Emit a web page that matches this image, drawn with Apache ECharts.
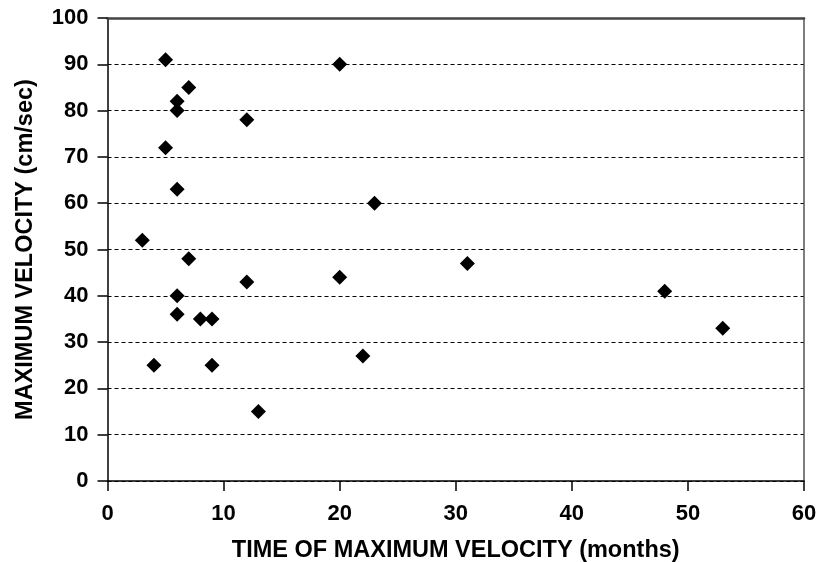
<!DOCTYPE html>
<html>
<head>
<meta charset="utf-8">
<script src="https://cdn.jsdelivr.net/npm/echarts@6/dist/echarts.min.js"></script>
<style>
  html, body { margin: 0; padding: 0; background: #fff; }
  #chart { width: 821px; height: 562px; }
</style>
</head>
<body>
<div id="chart"></div>
<script>
// Time at which peak velocity was reached (months) and the peak velocity (cm/sec)
const timeMonths = [5, 20, 7, 6, 6, 12, 5, 6, 23, 3, 7, 12, 20, 6, 6, 8, 9, 4, 9, 13, 22, 31, 48, 53];
const velocity   = [91, 90, 85, 82, 80, 78, 72, 63, 60, 52, 48, 43, 44, 40, 36, 35, 35, 25, 25, 15, 27, 47, 41, 33];

const xTitle = 'TIME OF MAXIMUM VELOCITY (months)';
const yTitle = 'MAXIMUM VELOCITY (cm/sec)';

const points = timeMonths.map((t, i) => [t, velocity[i]]);

const font = { fontFamily: 'Liberation Sans, Arial, sans-serif', fontWeight: 'bold', color: '#000' };

const chart = echarts.init(document.getElementById('chart'), null, { renderer: 'canvas' });
chart.setOption({
  animation: false,
  backgroundColor: '#fff',
  grid: { left: 107.5, right: 17, top: 18, bottom: 81, containLabel: false, outerBoundsMode: 'none' },
  xAxis: [
    {
      type: 'value', min: 0, max: 60, interval: 10, position: 'bottom',
      name: xTitle, nameLocation: 'middle', nameGap: 58,
      nameTextStyle: Object.assign({ fontSize: 23.5 }, font),
      axisLine: { show: true, lineStyle: { color: '#000', width: 1.5 } },
      axisTick: { show: true, inside: false, length: 10, lineStyle: { color: '#000', width: 1.5 } },
      axisLabel: Object.assign({ fontSize: 22, margin: 22 }, font),
      splitLine: { show: false }
    },
    {
      type: 'value', min: 0, max: 60, position: 'top',
      axisLine: { show: true, onZero: false, lineStyle: { color: '#444', width: 2.5 } },
      axisTick: { show: false }, axisLabel: { show: false }, splitLine: { show: false }
    }
  ],
  yAxis: [
    {
      type: 'value', min: 0, max: 100, interval: 10, position: 'left',
      name: yTitle, nameLocation: 'middle', nameGap: 70, nameRotate: 90,
      nameTextStyle: Object.assign({ fontSize: 23.5 }, font),
      axisLine: { show: true, lineStyle: { color: '#000', width: 1.5 } },
      axisTick: { show: true, inside: false, length: 10, lineStyle: { color: '#000', width: 1.5 } },
      axisLabel: Object.assign({ fontSize: 22, margin: 19 }, font),
      splitLine: { show: true, lineStyle: { color: '#000', width: 1, type: [4, 3] } }
    },
    {
      type: 'value', min: 0, max: 100, position: 'right',
      axisLine: { show: true, onZero: false, lineStyle: { color: '#555', width: 1.5 } },
      axisTick: { show: false }, axisLabel: { show: false }, splitLine: { show: false }
    }
  ],
  series: [{
    type: 'scatter',
    xAxisIndex: 0, yAxisIndex: 0,
    symbol: 'diamond',
    symbolSize: 15,
    itemStyle: { color: '#000', opacity: 1 },
    data: points
  }]
});
</script>
</body>
</html>
